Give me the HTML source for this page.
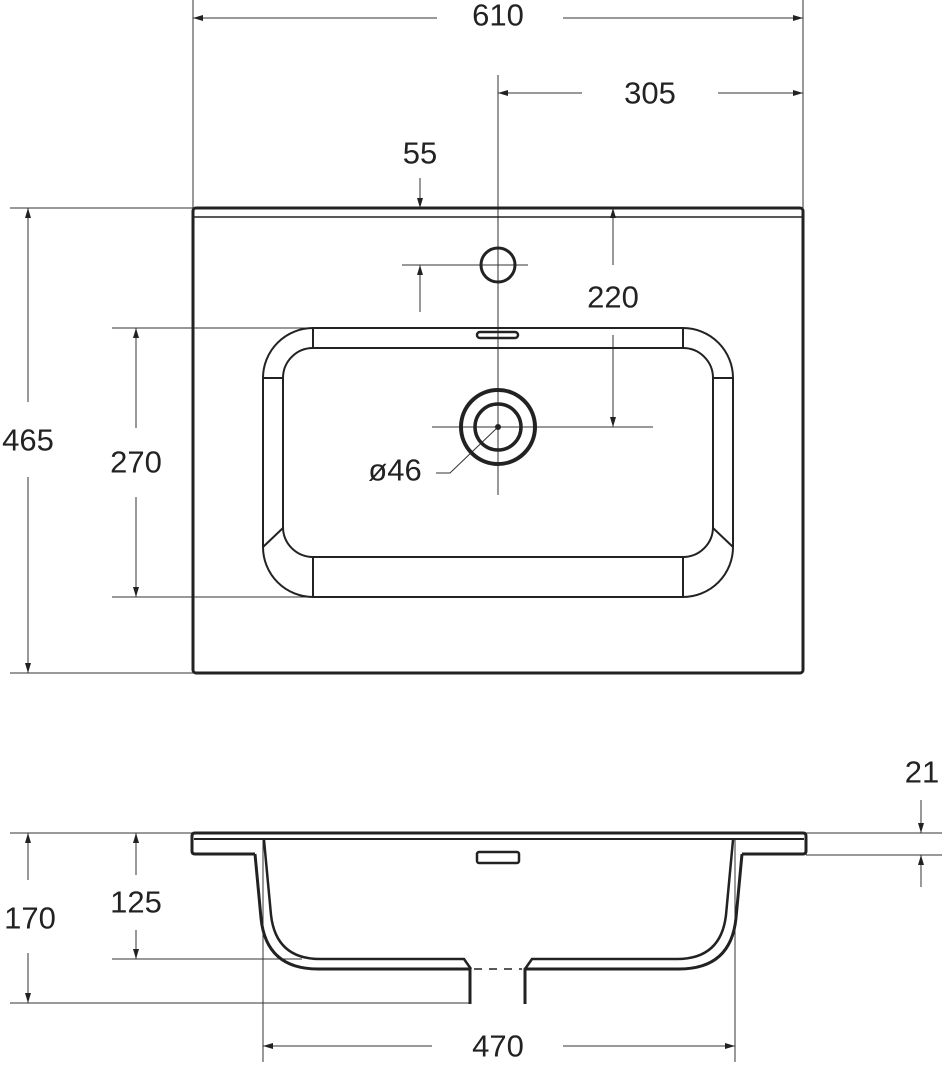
<!DOCTYPE html>
<html><head><meta charset="utf-8"><style>html,body{margin:0;padding:0;background:#fff}svg{display:block}text{font-family:"Liberation Sans",sans-serif;font-size:31px;fill:#222;text-anchor:middle;dominant-baseline:central}</style></head>
<body>
<svg width="942" height="1065" viewBox="0 0 942 1065" xmlns="http://www.w3.org/2000/svg">
<defs>
<marker id="a" viewBox="0 0 10 10" refX="10" refY="5" markerWidth="10" markerHeight="10" markerUnits="userSpaceOnUse" orient="auto-start-reverse"><path d="M0,2 L10,5 L0,8z" fill="#222"/></marker>
</defs>
<g stroke="#333" stroke-width="1" fill="none">
<line x1="193" y1="0" x2="193" y2="208"/><line x1="803" y1="0" x2="803" y2="208"/>
<line x1="10" y1="208" x2="193" y2="208"/><line x1="10" y1="673" x2="193" y2="673"/>
<line x1="112" y1="328" x2="313" y2="328"/><line x1="112" y1="597" x2="313" y2="597"/>
<line x1="193" y1="18" x2="437" y2="18" marker-start="url(#a)"/><line x1="563" y1="18" x2="803" y2="18" marker-end="url(#a)"/>
<line x1="498" y1="93" x2="582" y2="93" marker-start="url(#a)"/><line x1="718" y1="93" x2="803" y2="93" marker-end="url(#a)"/>
<line x1="28" y1="208" x2="28" y2="402" marker-start="url(#a)"/><line x1="28" y1="477" x2="28" y2="673" marker-end="url(#a)"/>
<line x1="136" y1="328" x2="136" y2="428" marker-start="url(#a)"/><line x1="136" y1="497" x2="136" y2="597" marker-end="url(#a)"/>
<line x1="420" y1="178" x2="420" y2="208" marker-end="url(#a)"/><line x1="420" y1="312" x2="420" y2="265" marker-end="url(#a)"/>
<line x1="613" y1="265" x2="613" y2="208" marker-end="url(#a)"/><line x1="613" y1="335" x2="613" y2="427" marker-end="url(#a)"/>
<line x1="498" y1="75" x2="498" y2="495"/>
<line x1="402" y1="265" x2="528" y2="265"/>
<line x1="432" y1="427" x2="653" y2="427"/>
<polyline points="498,427 450,473 436,473"/>
</g>
<circle cx="498" cy="427" r="3" fill="#222"/>
<g stroke="#222" fill="none">
<rect x="193" y="208" width="610" height="465" rx="3" stroke-width="3"/>
<line x1="193" y1="217" x2="803" y2="217" stroke-width="1.5"/>
<circle cx="498" cy="265" r="17" stroke-width="3"/>
<rect x="263" y="328" width="470" height="269" rx="50" stroke-width="2"/>
<rect x="283" y="348" width="430" height="209" rx="30" stroke-width="2"/>
<line x1="313" y1="328" x2="313" y2="348" stroke-width="2"/><line x1="683" y1="328" x2="683" y2="348" stroke-width="2"/>
<line x1="313" y1="557" x2="313" y2="597" stroke-width="2"/><line x1="683" y1="557" x2="683" y2="597" stroke-width="2"/>
<line x1="263" y1="378" x2="283" y2="378" stroke-width="2"/><line x1="713" y1="378" x2="733" y2="378" stroke-width="2"/>
<line x1="263" y1="547" x2="283" y2="528" stroke-width="2"/><line x1="713" y1="528" x2="733" y2="547" stroke-width="2"/>
<rect x="477" y="332" width="41" height="6" rx="3" stroke-width="2.5"/>
<circle cx="498" cy="427" r="37" stroke-width="4"/>
<circle cx="498" cy="427" r="23" stroke-width="3.5"/>
</g>
<text x="420" y="153">55</text>
<text x="650" y="93">305</text>
<text x="498" y="15">610</text>
<text x="613" y="297">220</text>
<text x="28" y="440">465</text>
<text x="136" y="462">270</text>
<text x="395" y="470">ø46</text>
<g stroke="#333" stroke-width="1" fill="none">
<line x1="10" y1="833" x2="192" y2="833"/><line x1="10" y1="1003" x2="470" y2="1003"/>
<line x1="112" y1="959" x2="302" y2="959"/>
<line x1="806" y1="833" x2="942" y2="833"/><line x1="806" y1="855" x2="942" y2="855"/>
<line x1="263" y1="840" x2="263" y2="1062"/><line x1="735" y1="840" x2="735" y2="1062"/>
<line x1="28" y1="833" x2="28" y2="880" marker-start="url(#a)"/><line x1="28" y1="953" x2="28" y2="1003" marker-end="url(#a)"/>
<line x1="136" y1="833" x2="136" y2="875" marker-start="url(#a)"/><line x1="136" y1="930" x2="136" y2="959" marker-end="url(#a)"/>
<line x1="263" y1="1046" x2="432" y2="1046" marker-start="url(#a)"/><line x1="563" y1="1046" x2="735" y2="1046" marker-end="url(#a)"/>
<line x1="921" y1="800" x2="921" y2="833" marker-end="url(#a)"/><line x1="921" y1="887" x2="921" y2="855" marker-end="url(#a)"/>
</g>
<g stroke="#222" stroke-width="3" fill="none" stroke-linejoin="round">
<path d="M255,854 L195,854 Q192,854 192,851 L192,836 Q192,833 195,833 L803,833 Q806,833 806,836 L806,851 Q806,854 803,854 L742,854"/>
<line x1="194" y1="839" x2="804" y2="839" stroke-width="2"/>
<path d="M255,854 L261,918 Q266,969 318,969 L470,969 L470,1004"/>
<path d="M742,854 L736,918 Q731,969 679,969 L525,969 L525,1004"/>
<path d="M264,840 L271,915 Q276,959 320,959 L464,959 L471,969" stroke-width="2.5"/>
<path d="M733,840 L726,915 Q721,959 677,959 L532,959 L525,969" stroke-width="2.5"/>
<line x1="474" y1="969" x2="522" y2="969" stroke-width="1.5" stroke-dasharray="8,7"/>
<rect x="477" y="852" width="42" height="11" rx="2" stroke-width="2.5"/>
</g>
<text x="922" y="772">21</text>
<text x="30" y="918">170</text>
<text x="136" y="902">125</text>
<text x="498" y="1046">470</text>
</svg>
</body></html>
